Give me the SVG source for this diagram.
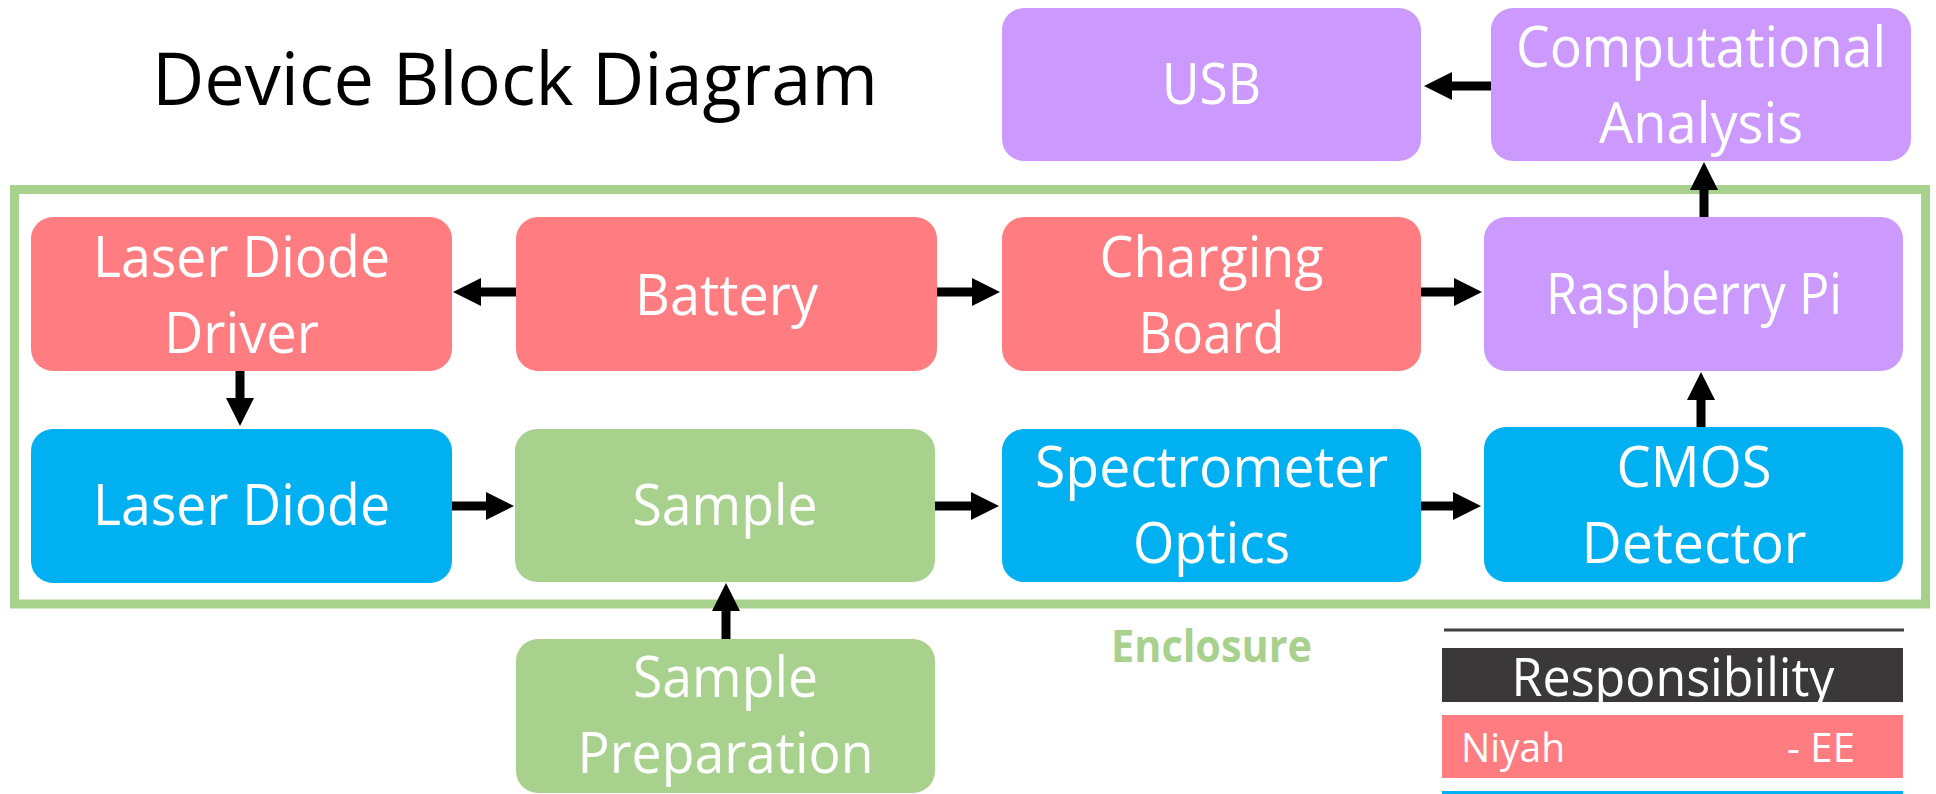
<svg xmlns="http://www.w3.org/2000/svg" width="1936" height="794" viewBox="0 0 1936 794">
  <defs>
    <marker id="head" viewBox="0 0 28 28" refX="0" refY="14" markerWidth="28" markerHeight="28" markerUnits="userSpaceOnUse" orient="auto">
      <path d="M0,0 L28,14 L0,28 Z" fill="#000"/>
    </marker>
  </defs>
  <style>
    text { font-family: "Open Sans", "Noto Sans", "DejaVu Sans", sans-serif; }
    .box { stroke: none; }
    .red { fill: #FF7C80; }
    .blue { fill: #00B0F0; }
    .green { fill: #A9D18E; }
    .purple { fill: #CC99FF; }
    .lbl { fill: #FFFFFF; font-size: 56px; text-anchor: middle; }
    .conn { stroke: #000; stroke-width: 9; fill: none; marker-end: url(#head); }
  </style>

  <rect width="1936" height="794" fill="#FFFFFF"/>

  <text x="152" y="105" font-size="74" fill="#000" textLength="726" lengthAdjust="spacingAndGlyphs">Device Block Diagram</text>

  <!-- enclosure outline -->
  <rect id="enclosure" x="14.5" y="189.5" width="1911" height="414.5" fill="none" stroke="#A9D18E" stroke-width="9"/>
  <text x="1211.5" y="662" font-size="44" font-weight="bold" fill="#A9D18E" text-anchor="middle" textLength="201" lengthAdjust="spacingAndGlyphs">Enclosure</text>

  <g id="usb">
    <rect class="box purple" x="1002" y="8" width="419" height="153" rx="22"/>
    <text class="lbl" x="1211.5" y="104" textLength="99" lengthAdjust="spacingAndGlyphs">USB</text>
  </g>
  <g id="computational-analysis">
    <rect class="box purple" x="1491" y="8" width="420" height="153" rx="22"/>
    <text class="lbl" x="1701" y="67" textLength="370" lengthAdjust="spacingAndGlyphs">Computational</text>
    <text class="lbl" x="1701" y="143" textLength="204" lengthAdjust="spacingAndGlyphs">Analysis</text>
  </g>

  <g id="laser-diode-driver">
    <rect class="box red" x="31" y="217" width="421" height="154" rx="22"/>
    <text class="lbl" x="241.5" y="277" textLength="297" lengthAdjust="spacingAndGlyphs">Laser Diode</text>
    <text class="lbl" x="241.5" y="353" textLength="155" lengthAdjust="spacingAndGlyphs">Driver</text>
  </g>
  <g id="battery">
    <rect class="box red" x="516" y="217" width="421" height="154" rx="22"/>
    <text class="lbl" x="726.5" y="315" textLength="183" lengthAdjust="spacingAndGlyphs">Battery</text>
  </g>
  <g id="charging-board">
    <rect class="box red" x="1002" y="217" width="419" height="154" rx="22"/>
    <text class="lbl" x="1211.5" y="277" textLength="224" lengthAdjust="spacingAndGlyphs">Charging</text>
    <text class="lbl" x="1211.5" y="353" textLength="146" lengthAdjust="spacingAndGlyphs">Board</text>
  </g>
  <g id="raspberry-pi">
    <rect class="box purple" x="1484" y="217" width="419" height="154" rx="22"/>
    <text class="lbl" x="1694" y="314" textLength="296" lengthAdjust="spacingAndGlyphs">Raspberry Pi</text>
  </g>

  <g id="laser-diode">
    <rect class="box blue" x="31" y="429" width="421" height="154" rx="22"/>
    <text class="lbl" x="241.5" y="525" textLength="297" lengthAdjust="spacingAndGlyphs">Laser Diode</text>
  </g>
  <g id="sample">
    <rect class="box green" x="515" y="429" width="420" height="153" rx="22"/>
    <text class="lbl" x="725" y="525" textLength="185" lengthAdjust="spacingAndGlyphs">Sample</text>
  </g>
  <g id="spectrometer-optics">
    <rect class="box blue" x="1002" y="429" width="419" height="153" rx="22"/>
    <text class="lbl" x="1211.5" y="487" textLength="353" lengthAdjust="spacingAndGlyphs">Spectrometer</text>
    <text class="lbl" x="1211.5" y="563" textLength="157" lengthAdjust="spacingAndGlyphs">Optics</text>
  </g>
  <g id="cmos-detector">
    <rect class="box blue" x="1484" y="427" width="419" height="155" rx="22"/>
    <text class="lbl" x="1694" y="487" textLength="155" lengthAdjust="spacingAndGlyphs">CMOS</text>
    <text class="lbl" x="1694" y="563" textLength="225" lengthAdjust="spacingAndGlyphs">Detector</text>
  </g>

  <g id="sample-preparation">
    <rect class="box green" x="516" y="639" width="419" height="154" rx="22"/>
    <text class="lbl" x="725.5" y="697" textLength="185" lengthAdjust="spacingAndGlyphs">Sample</text>
    <text class="lbl" x="725.5" y="773" textLength="296" lengthAdjust="spacingAndGlyphs">Preparation</text>
  </g>

  <!-- connectors: each line stops at the arrowhead base, marker draws the 28px head -->
  <g id="connectors">
    <line class="conn" x1="516" y1="292" x2="481" y2="292"/>
    <line class="conn" x1="937" y1="292" x2="972" y2="292"/>
    <line class="conn" x1="1421" y1="292" x2="1454" y2="292"/>
    <line class="conn" x1="1491" y1="86" x2="1452" y2="86"/>
    <line class="conn" x1="1704" y1="217" x2="1704" y2="190"/>
    <line class="conn" x1="240" y1="371" x2="240" y2="398"/>
    <line class="conn" x1="452" y1="506" x2="486" y2="506"/>
    <line class="conn" x1="935" y1="506" x2="971" y2="506"/>
    <line class="conn" x1="1421" y1="506" x2="1453" y2="506"/>
    <line class="conn" x1="1701" y1="427" x2="1701" y2="400"/>
    <line class="conn" x1="726" y1="639" x2="726" y2="611"/>
  </g>

  <!-- responsibility legend -->
  <g id="legend">
    <line x1="1444" y1="630" x2="1904" y2="630" stroke="#404040" stroke-width="3"/>
    <rect x="1442" y="648" width="461" height="54" fill="#3A3838"/>
    <text x="1673" y="696" font-size="53" fill="#FFFFFF" text-anchor="middle" textLength="323" lengthAdjust="spacingAndGlyphs">Responsibility</text>
    <rect x="1442" y="715" width="461" height="63" fill="#FF7C80"/>
    <text x="1461" y="762" font-size="41" fill="#FFFFFF" textLength="104" lengthAdjust="spacingAndGlyphs">Niyah</text>
    <text x="1787" y="762" font-size="41" fill="#FFFFFF" textLength="68" lengthAdjust="spacingAndGlyphs">- EE</text>
    <rect x="1442" y="791" width="461" height="10" fill="#00B0F0"/>
  </g>
</svg>
